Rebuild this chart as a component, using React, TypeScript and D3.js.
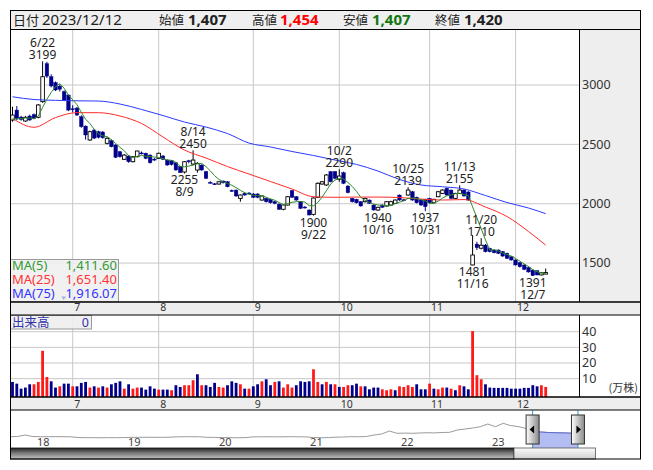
import * as d3 from 'd3';

// trading days 2023/6/13 - 2023/12/12
const tradingDays: [number, number[]][] = [
  [6, [13, 14, 15, 16, 19, 20, 21, 22, 23, 26, 27, 28, 29, 30]],
  [7, [3, 4, 5, 6, 7, 10, 11, 12, 13, 14, 18, 19, 20, 21, 24, 25, 26, 27, 28, 31]],
  [8, [1, 2, 3, 4, 7, 8, 9, 10, 14, 15, 16, 17, 18, 21, 22, 23, 24, 25, 28, 29, 30, 31]],
  [9, [1, 4, 5, 6, 7, 8, 11, 12, 13, 14, 15, 19, 20, 21, 22, 25, 26, 27, 28, 29]],
  [10, [2, 3, 4, 5, 6, 10, 11, 12, 13, 16, 17, 18, 19, 20, 23, 24, 25, 26, 27, 30, 31]],
  [11, [1, 2, 6, 7, 8, 9, 10, 13, 14, 15, 16, 17, 20, 21, 22, 24, 27, 28, 29, 30]],
  [12, [1, 4, 5, 6, 7, 8, 11, 12]],
];

const opens = [
  2705, 2789, 2730, 2697, 2739, 2750, 2728, 2860, 3180, 3070,
  3020, 2990, 2944, 2916, 2800, 2806, 2733, 2654, 2537, 2621,
  2607, 2604, 2509, 2531, 2495, 2438, 2374, 2402, 2354, 2396,
  2428, 2425, 2410, 2376, 2382, 2402, 2368, 2362, 2345, 2312,
  2267, 2362, 2334, 2284, 2326, 2270, 2180, 2168, 2166, 2191,
  2185, 2112, 2115, 2045, 2088, 2090, 2082, 2082, 2031, 2045,
  2037, 2017, 1997, 1953, 1989, 2110, 2059, 2017, 1972, 1947,
  1910, 2054, 2166, 2158, 2270, 2270, 2206, 2261, 2149, 2045,
  2037, 2017, 2017, 2031, 1989, 1947, 1989, 1981, 1989, 2003,
  2073, 2033, 2073, 2101, 2054, 2031, 2037, 2045, 2008, 2059,
  2087, 2130, 2115, 2045, 2087, 2115, 2099, 1484, 1660, 1625,
  1652, 1624, 1610, 1610, 1596, 1582, 1553, 1526, 1503, 1484,
  1464, 1441, 1435, 1400, 1407,
];
const highs = [
  2817, 2823, 2740, 2740, 2750, 2760, 2840, 3199, 3195, 3090,
  3030, 3005, 2955, 2920, 2830, 2815, 2745, 2660, 2615, 2630,
  2615, 2612, 2560, 2540, 2500, 2445, 2418, 2410, 2402, 2446,
  2440, 2430, 2415, 2385, 2430, 2410, 2372, 2368, 2350, 2318,
  2360, 2370, 2450, 2350, 2332, 2276, 2190, 2175, 2192, 2196,
  2190, 2120, 2120, 2078, 2095, 2098, 2090, 2088, 2070, 2050,
  2042, 2024, 2002, 1995, 2065, 2115, 2065, 2022, 1980, 1952,
  2055, 2180, 2192, 2250, 2275, 2276, 2290, 2270, 2155, 2050,
  2042, 2022, 2050, 2036, 1995, 1975, 1995, 2022, 2025, 2036,
  2078, 2040, 2139, 2108, 2060, 2036, 2042, 2050, 2042, 2108,
  2122, 2136, 2120, 2092, 2155, 2122, 2105, 1736, 1680, 1710,
  1660, 1630, 1615, 1615, 1602, 1588, 1560, 1532, 1510, 1490,
  1470, 1446, 1440, 1425, 1454,
];
const lows = [
  2691, 2705, 2700, 2690, 2700, 2712, 2720, 2850, 3060, 2980,
  2950, 2945, 2865, 2780, 2770, 2740, 2640, 2540, 2530, 2545,
  2550, 2548, 2500, 2475, 2385, 2388, 2368, 2345, 2348, 2390,
  2415, 2375, 2338, 2362, 2378, 2368, 2320, 2322, 2278, 2260,
  2255, 2340, 2325, 2262, 2278, 2208, 2170, 2158, 2160, 2170,
  2138, 2100, 2058, 2017, 2068, 2080, 2048, 2046, 2025, 2010,
  2002, 1995, 1948, 1945, 1985, 2050, 2025, 1955, 1960, 1902,
  1900, 2048, 2160, 2150, 2180, 2205, 2185, 2165, 2088, 2010,
  2002, 1975, 2010, 1998, 1942, 1940, 1965, 1975, 1985, 1998,
  2025, 2022, 2068, 2025, 2002, 1982, 1937, 2002, 2002, 2054,
  2082, 2068, 2040, 2040, 2082, 2060, 2025, 1481, 1610, 1615,
  1590, 1590, 1582, 1576, 1553, 1535, 1520, 1478, 1462, 1440,
  1420, 1391, 1396, 1396, 1407,
];
const closes = [
  2747, 2719, 2710, 2728, 2705, 2720, 2832, 3070, 3075, 2992,
  2958, 2965, 2874, 2789, 2795, 2747, 2649, 2579, 2607, 2553,
  2560, 2556, 2551, 2480, 2391, 2396, 2410, 2354, 2396, 2444,
  2424, 2382, 2345, 2372, 2425, 2374, 2326, 2330, 2284, 2262,
  2354, 2356, 2368, 2340, 2284, 2214, 2177, 2165, 2185, 2177,
  2143, 2108, 2065, 2073, 2073, 2086, 2054, 2054, 2065, 2017,
  2008, 2003, 1953, 1989, 2059, 2054, 2031, 1961, 1968, 1905,
  2048, 2172, 2185, 2242, 2185, 2214, 2233, 2172, 2093, 2017,
  2008, 1981, 2045, 2003, 1947, 1970, 1970, 2017, 2017, 2031,
  2031, 2030, 2115, 2031, 2008, 1989, 1975, 2008, 2037, 2101,
  2115, 2073, 2045, 2087, 2115, 2065, 2031, 1568, 1630, 1650,
  1596, 1596, 1587, 1582, 1559, 1540, 1526, 1484, 1469, 1447,
  1425, 1395, 1400, 1418, 1420,
];
// closes of the 4 sessions before 6/13 (for MA5)
const prevCloses = [2700, 2690, 2710, 2705];

// 出来高 (万株) and bar colour (r = up, b = down)
const volumes = [
  7.9, 6.8, 3.6, 4.3, 6.4, 6.4, 7.9, 27.8, 11.1, 8.3,
  4.3, 5.1, 6.8, 6.8, 5.1, 5.1, 7.3, 7.9, 4.3, 5.1,
  4.3, 5.1, 4.3, 6.4, 7.3, 8.3, 3.6, 6.4, 3.6, 4.3,
  4.3, 3.0, 5.1, 3.6, 3.0, 3.0, 3.0, 2.6, 5.8, 4.7,
  5.8, 5.8, 9.0, 12.8, 5.8, 5.8, 4.7, 7.3, 4.7, 4.3,
  5.8, 8.3, 7.3, 6.4, 3.6, 3.6, 5.1, 6.4, 8.3, 9.6,
  5.8, 7.9, 8.3, 4.3, 6.4, 4.3, 5.8, 8.3, 7.9, 8.3,
  16, 7.9, 6.4, 7.9, 6.4, 6.4, 4.7, 4.7, 5.8, 5.8,
  6.8, 5.1, 5.1, 3.2, 4.3, 4.3, 3.2, 2.6, 3.2, 2.6,
  5.1, 4.7, 5.8, 4.7, 6.4, 3.2, 3.2, 6.8, 3.6, 3.2,
  4.3, 4.3, 3.6, 2.6, 5.8, 5.1, 3.2, 40.4, 12.2, 9.6,
  6.4, 4.3, 4.1, 4.1, 4.1, 4.1, 3.6, 3.6, 3.6, 4.1,
  4.1, 5.8, 5.1, 5.8, 4.7,
];
const volDir =
  'bbbbbrrrrb' + 'brbbrbbbrb' + 'rbrbbbrbrr' + 'bbbbrbbrbb' + 'rrrbrbbbrr' +
  'bbbrbrbbrb' + 'brbrrrbbbb' + 'rrbrbrbrrb' + 'brbbbbrrrb' + 'rrrrbbbrbr' +
  'rbrbrbbrrr' + 'bbbbbbbbbb' + 'bbbrr';

// moving averages every 5 sessions (last = 12/12)
const maSampleIdx = [0, 5, 10, 15, 20, 25, 30, 35, 40, 45, 50, 55, 60, 65, 70, 75, 80, 85, 90, 95, 100, 105, 110, 115, 120, 124];
const ma25 = [2719, 2644, 2726, 2767, 2767, 2739, 2676, 2562, 2452, 2385, 2313, 2250, 2187, 2124, 2059, 2054, 2056, 2056, 2052, 2039, 2031, 2035, 1972, 1892, 1766, 1651.4];
const ma75 = [2901, 2878, 2871, 2867, 2865, 2840, 2794, 2743, 2688, 2646, 2591, 2511, 2478, 2440, 2406, 2368, 2331, 2275, 2204, 2158, 2143, 2124, 2069, 2010, 1964, 1916.07];

const highMarks = ['6/22', '8/14', '10/2', '10/25', '11/13', '11/20'];
const lowMarks = ['8/9', '9/22', '10/16', '10/31', '11/16', '12/7'];
const priceTicks = [1500, 2000, 2500, 3000];
const volTicks = [10, 20, 30, 40];

// long-term navigator, monthly from 2017/9
const navValues = [
  660, 700, 1000, 700,
  660, 650, 670, 660, 640, 500, 460, 470, 450, 470, 460, 480,
  520, 540, 550, 530, 540, 560, 620, 660, 650, 640, 540, 520,
  500, 460, 450, 470, 620, 640, 650, 630, 640, 660, 640, 620,
  480, 460, 480, 560, 600, 660, 650, 700, 1000, 1200, 1800, 1340,
  1380, 1340, 1400, 1450, 1420, 1500, 1540, 2000, 2200, 2400, 2660, 3200,
  2660, 3340, 2900, 2700, 2340, 1700, 1600, 1500, 1450, 1420, 1360, 1340,
];
const navYears = [2018, 2019, 2020, 2021, 2022, 2023];

const SANS = "'Noto Sans', 'DejaVu Sans', sans-serif";
const JP = "'Noto Sans CJK JP', 'Noto Sans', sans-serif";
const NAVY = '#00008b';
const GRID = '#c8c8c8';

export default function App() {
  const dates: string[] = [];
  const monthStart: { m: number; i: number }[] = [];
  tradingDays.forEach(([m, days]) => {
    if (m !== 6) monthStart.push({ m, i: dates.length });
    days.forEach((d) => dates.push(`${m}/${d}`));
  });
  const n = closes.length;

  const x = d3.scaleLinear().domain([0, n - 1]).range([12.5, 545.7]);
  const y = d3.scaleLinear().domain([1172, 3472]).range([302, 29]);
  const yv = d3.scaleLinear().domain([0, 40]).range([394.3, 331.7]);

  const allCloses = [...prevCloses, ...closes];
  const ma5 = closes.map((_, i) => d3.mean(allCloses.slice(i, i + 5)) as number);

  const line5 = d3.line<number>().x((_, i) => x(i)).y((d) => y(d));
  const sampled = d3
    .line<[number, number]>()
    .x((d) => x(d[0]))
    .y((d) => y(d[1]))
    .curve(d3.curveMonotoneX);
  const ma25pts = maSampleIdx.map((i, k) => [i, ma25[k]] as [number, number]);
  const ma75pts = maSampleIdx.map((i, k) => [i, ma75[k]] as [number, number]);

  // navigator
  const navX = d3.scaleTime().domain([new Date(2018, 0, 1), new Date(2023, 0, 1)]).range([37, 492]);
  const navY = d3.scaleLinear().domain([0, 4000]).range([440, 420]);
  const navPts = navValues.map((v, k) => [new Date(2017, 8 + k, 15), v] as [Date, number]);
  const navLine = d3.line<[Date, number]>().x((d) => navX(d[0])).y((d) => navY(d[1]));
  const navArea = d3
    .area<[Date, number]>()
    .x((d) => navX(d[0]))
    .y0(448)
    .y1((d) => navY(d[1]));
  const selX0 = navX(new Date(2023, 5, 13));
  const selX1 = navX(new Date(2023, 11, 12));

  const last = n - 1;
  const fmt = d3.format(',');
  const fmt2 = d3.format(',.2f');

  const monthLabel = (yy: number) =>
    monthStart.map(({ m, i }) => (
      <text key={`${yy}-${m}`} x={x(i) + 1.5} y={yy} fontSize={10.5} fill="#333" fontFamily={SANS}>
        {m}
      </text>
    ));

  const handle = (cx: number, dir: number) => (
    <g>
      <rect x={cx - 6.5} y={415} width={13} height={29} fill="url(#hgrad)" stroke="#333" strokeWidth={1} />
      <polygon
        points={
          dir < 0
            ? `${cx - 3},${429.5} ${cx + 1.5},${425.5} ${cx + 1.5},${433.5}`
            : `${cx + 3},${429.5} ${cx - 1.5},${425.5} ${cx - 1.5},${433.5}`
        }
        fill="#000"
      />
    </g>
  );

  return (
    <svg
      width={653}
      height={470}
      style={{ position: 'absolute', left: 0, top: 0, background: '#fff' }}
      fontFamily={SANS}
    >
      <defs>
        <clipPath id="mainClip">
          <rect x={10.5} y={29.5} width={569} height={272.5} />
        </clipPath>
        <clipPath id="navClip">
          <rect x={10.5} y={410.5} width={569} height={37.5} />
        </clipPath>
        <clipPath id="selClip">
          <rect x={selX0} y={410.5} width={selX1 - selX0} height={37.5} />
        </clipPath>
        <linearGradient id="hgrad" x1="0" x2="1" y1="0" y2="0">
          <stop offset="0" stopColor="#ffffff" />
          <stop offset="1" stopColor="#8a8a8a" />
        </linearGradient>
        <linearGradient id="barGrad" x1="0" x2="0" y1="0" y2="1">
          <stop offset="0" stopColor="#222" />
          <stop offset="0.45" stopColor="#777" />
          <stop offset="1" stopColor="#c4c4c4" />
        </linearGradient>
        <linearGradient id="thumbGrad" x1="0" x2="0" y1="0" y2="1">
          <stop offset="0" stopColor="#fbfbfb" />
          <stop offset="1" stopColor="#cfcfcf" />
        </linearGradient>
      </defs>

      {/* header */}
      <rect x={10.5} y={10.5} width={630} height={19} fill="#efefef" />
      <text x={13} y={24.5} fontSize={13} fontFamily={JP} fill="#222">日付</text>
      <text x={42} y={24.5} fontSize={15} fill="#222">2023/12/12</text>
      <text x={159} y={24.5} fontSize={12.5} fontFamily={JP} fill="#222">始値</text>
      <text x={188} y={24.5} fontSize={15} fontWeight="bold" fill="#222">{fmt(opens[last])}</text>
      <text x={252} y={24.5} fontSize={12.5} fontFamily={JP} fill="#222">高値</text>
      <text x={280} y={24.5} fontSize={15} fontWeight="bold" fill="#ff0000">{fmt(highs[last])}</text>
      <text x={343} y={24.5} fontSize={12.5} fontFamily={JP} fill="#222">安値</text>
      <text x={372} y={24.5} fontSize={15} fontWeight="bold" fill="#117711">{fmt(lows[last])}</text>
      <text x={435} y={24.5} fontSize={12.5} fontFamily={JP} fill="#222">終値</text>
      <text x={464} y={24.5} fontSize={15} fontWeight="bold" fill="#222">{fmt(closes[last])}</text>

      {/* price panel */}
      <rect x={579.5} y={29.5} width={61} height={272.5} fill="#eeeeee" />
      {priceTicks.map((t) => (
        <g key={t}>
          <line x1={10.5} x2={580} y1={y(t)} y2={y(t)} stroke={GRID} />
          <text x={582} y={y(t)} dy="0.35em" fontSize={12.5} fill="#333">{t}</text>
        </g>
      ))}
      {monthStart.map(({ m, i }) => (
        <line key={m} x1={x(i)} x2={x(i)} y1={29.5} y2={302} stroke={GRID} />
      ))}

      <g clipPath="url(#mainClip)">
        {closes.map((c, i) => {
          const o = opens[i];
          const up = c >= o;
          const cx = x(i);
          const top = y(Math.max(o, c));
          const bot = y(Math.min(o, c));
          const col = up ? '#000' : NAVY;
          return (
            <g key={i}>
              <line x1={cx} x2={cx} y1={y(highs[i])} y2={y(lows[i])} stroke={col} strokeWidth={1} />
              <rect
                x={cx - 1.8}
                y={top}
                width={3.6}
                height={Math.max(1, bot - top)}
                fill={up ? '#fff' : NAVY}
                stroke={col}
                strokeWidth={up ? 0.9 : 0.4}
              />
            </g>
          );
        })}
        <path d={sampled(ma75pts) || ''} fill="none" stroke="#2a3aff" strokeWidth={1} />
        <path d={sampled(ma25pts) || ''} fill="none" stroke="#ff2a2a" strokeWidth={1} />
        <path d={line5(ma5) || ''} fill="none" stroke="#2e8b2e" strokeWidth={1} />
      </g>

      {/* high / low annotations */}
      <g fontSize={12} fill="#222" textAnchor="middle">
        {highMarks.map((ds) => {
          const i = dates.indexOf(ds);
          return (
            <g key={ds}>
              <text x={x(i)} y={y(highs[i]) - 14.5}>{ds}</text>
              <text x={x(i)} y={y(highs[i]) - 2.5}>{highs[i]}</text>
            </g>
          );
        })}
        {lowMarks.map((ds) => {
          const i = dates.indexOf(ds);
          return (
            <g key={ds}>
              <text x={x(i)} y={y(lows[i]) + 11}>{lows[i]}</text>
              <text x={x(i)} y={y(lows[i]) + 23}>{ds}</text>
            </g>
          );
        })}
      </g>

      {/* MA legend */}
      <rect x={10.5} y={259.5} width={108} height={42.5} fill="#eeeeee" fillOpacity={0.85} stroke="#999" />
      <g fontSize={13}>
        <text x={12} y={270} fill="#339933">MA(5)</text>
        <text x={117} y={270} fill="#339933" textAnchor="end">{fmt2(ma5[last])}</text>
        <text x={12} y={284} fill="#ff3333">MA(25)</text>
        <text x={117} y={284} fill="#ff3333" textAnchor="end">{fmt2(ma25[ma25.length - 1])}</text>
        <text x={12} y={298} fill="#3333ff">MA(75)</text>
        <polygon points="61.5,296.5 66,296.5 63.75,300" fill="#9fb0dd" />
        <text x={117} y={298} fill="#3333ff" textAnchor="end">{fmt2(ma75[ma75.length - 1])}</text>
      </g>

      {/* month strip 1 */}
      <rect x={10.5} y={302} width={630} height={13} fill="#eeeeee" />
      {monthLabel(311)}

      {/* volume panel */}
      {volTicks.map((t) => (
        <g key={t}>
          <line x1={10.5} x2={579.5} y1={yv(t)} y2={yv(t)} stroke={GRID} />
          <text x={582} y={yv(t)} dy="0.35em" fontSize={12.5} fill="#333">{t}</text>
        </g>
      ))}
      {monthStart.map(({ m, i }) => (
        <line key={m} x1={x(i)} x2={x(i)} y1={315} y2={397} stroke={GRID} />
      ))}
      {volumes.map((v, i) => (
        <rect
          key={i}
          x={x(i) - 1.4}
          y={yv(v)}
          width={2.8}
          height={397 - yv(v)}
          fill={volDir[i] === 'r' ? '#ff1a1a' : NAVY}
        />
      ))}
      <text x={638} y={392} fontSize={11} fill="#333" textAnchor="end" fontFamily={JP}>(万株)</text>
      <rect x={10.5} y={315.5} width={81} height={13.5} fill="#eeeeee" fillOpacity={0.9} stroke="#999" />
      <text x={12} y={326.5} fontSize={12.5} fill="#3333aa" fontFamily={JP}>出来高</text>
      <text x={89} y={326.5} fontSize={12.5} fill="#3333aa" textAnchor="end">0</text>

      {/* month strip 2 */}
      <rect x={10.5} y={397} width={630} height={13} fill="#eeeeee" />
      {monthLabel(407.5)}

      {/* navigator */}
      <g clipPath="url(#navClip)">
        <path d={navLine(navPts) || ''} fill="none" stroke="#9a9a9a" strokeWidth={1} />
        <g clipPath="url(#selClip)">
          <path d={navArea(navPts) || ''} fill="#b4bdf2" />
          <path d={navLine(navPts) || ''} fill="none" stroke="#5a68cc" strokeWidth={1} />
        </g>
      </g>
      {navYears.map((yr) => (
        <text key={yr} x={navX(new Date(yr, 0, 1))} y={446} fontSize={11} fill="#444">
          {String(yr).slice(2)}
        </text>
      ))}
      <line x1={selX0} x2={selX0} y1={410.5} y2={448} stroke="#3399cc" />
      <line x1={selX1} x2={selX1} y1={410.5} y2={448} stroke="#3399cc" />
      {handle(selX0, -1)}
      {handle(selX1, 1)}

      {/* scroll bar */}
      <rect x={10.5} y={448} width={503.5} height={11} fill="url(#barGrad)" stroke="#111" strokeWidth={0.8} />
      <rect x={514} y={448} width={81.5} height={11} fill="url(#thumbGrad)" stroke="#555" strokeWidth={0.8} />

      {/* frame lines */}
      <g stroke="#000" strokeWidth={1} fill="none">
        <rect x={10.5} y={10.5} width={630} height={448.5} />
        <line x1={10.5} x2={640.5} y1={29.5} y2={29.5} />
        <line x1={10.5} x2={640.5} y1={302} y2={302} strokeWidth={1.5} />
        <line x1={10.5} x2={640.5} y1={315} y2={315} />
        <line x1={10.5} x2={640.5} y1={397} y2={397} strokeWidth={1.5} />
        <line x1={10.5} x2={640.5} y1={410} y2={410} />
        <line x1={579.5} x2={579.5} y1={29.5} y2={302} />
        <line x1={579.5} x2={579.5} y1={315} y2={397} />
      </g>
    </svg>
  );
}
